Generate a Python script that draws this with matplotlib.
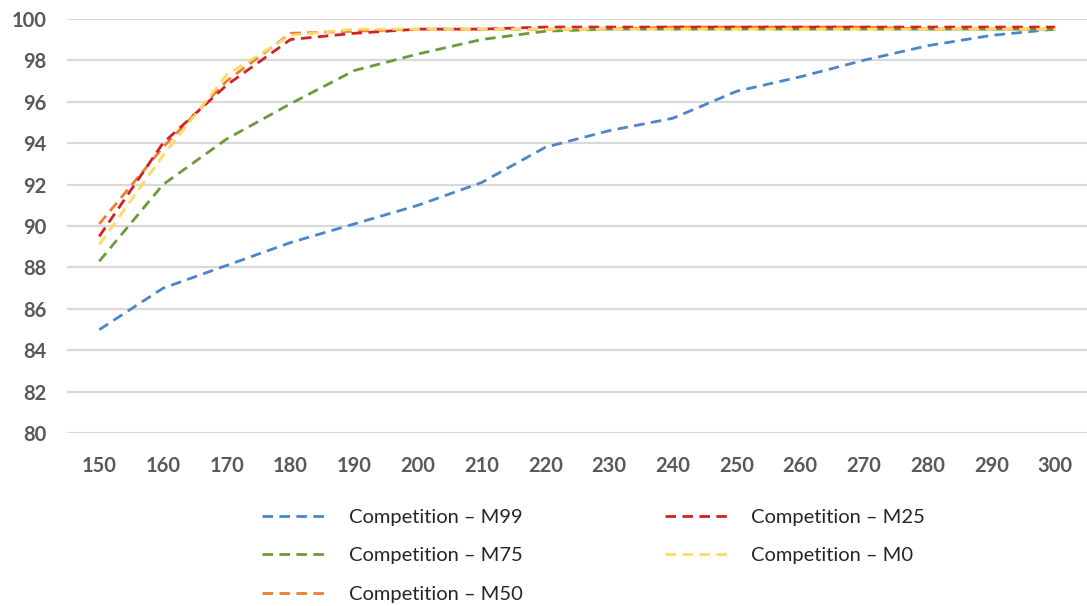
import matplotlib.pyplot as plt

# Test size (x axis) and accuracy for each competition level
sizes = [150, 160, 170, 180, 190, 200, 210, 220, 230, 240, 250, 260, 270, 280, 290, 300]

m99 = [85.0, 87.0, 88.1, 89.2, 90.1, 91.0, 92.1, 93.8, 94.6, 95.2, 96.5, 97.2, 98.0, 98.7, 99.2, 99.5]
m75 = [88.3, 92.0, 94.2, 95.9, 97.5, 98.3, 99.0, 99.4, 99.5, 99.5, 99.5, 99.5, 99.5, 99.5, 99.5, 99.5]
m50 = [90.1, 93.8, 97.0, 99.3, 99.4, 99.5, 99.5, 99.5, 99.5, 99.6, 99.6, 99.6, 99.6, 99.5, 99.5, 99.5]
m25 = [89.5, 94.0, 96.8, 99.0, 99.3, 99.5, 99.5, 99.6, 99.6, 99.6, 99.6, 99.6, 99.6, 99.6, 99.6, 99.6]
m0 = [89.1, 93.4, 97.3, 99.2, 99.5, 99.5, 99.5, 99.5, 99.5, 99.5, 99.5, 99.5, 99.5, 99.5, 99.5, 99.5]

labels = ["Competition – M99", "Competition – M75", "Competition – M50",
          "Competition – M25", "Competition – M0"]
series = [m99, m75, m50, m25, m0]
colors = ["#4A86C8", "#6A9A3C", "#ED7D31", "#D42020", "#FFD966"]

y_ticks = [80, 82, 84, 86, 88, 90, 92, 94, 96, 98, 100]

plt.rcParams["font.family"] = ["Lato", "DejaVu Sans"]

fig = plt.figure(figsize=(10.87, 6.06), dpi=100)
ax = fig.add_axes([0.062, 0.285, 0.938, 0.684])

lines = []
for vals, col, lab in zip(series, colors, labels):
    ln, = ax.plot(sizes, vals, color=col, linewidth=2.0, linestyle=(0, (3.8, 2.3)), label=lab)
    lines.append(ln)

ax.set_xlim(145, 305)
ax.set_ylim(80, 100)
ax.set_xticks(sizes)
ax.set_yticks(y_ticks)
ax.grid(axis="y", color="#D9D9D9", linewidth=1.6)
ax.set_axisbelow(True)
for s in ax.spines.values():
    s.set_visible(False)
ax.tick_params(length=0, labelsize=14.5, labelcolor="#595959")
for t in ax.get_xticklabels() + ax.get_yticklabels():
    t.set_fontweight("bold")
ax.tick_params(axis="x", pad=16)
ax.tick_params(axis="y", pad=15)

fig.legend(handles=lines, loc="upper left", bbox_to_anchor=(0.2246, 0.19), ncol=2,
           frameon=False, handlelength=3.1, handletextpad=1.2,
           columnspacing=7.05, labelspacing=1.05, labelcolor="#262626",
           prop={"family": "Lato", "size": 14.5})

plt.savefig("out.png", dpi=100)
